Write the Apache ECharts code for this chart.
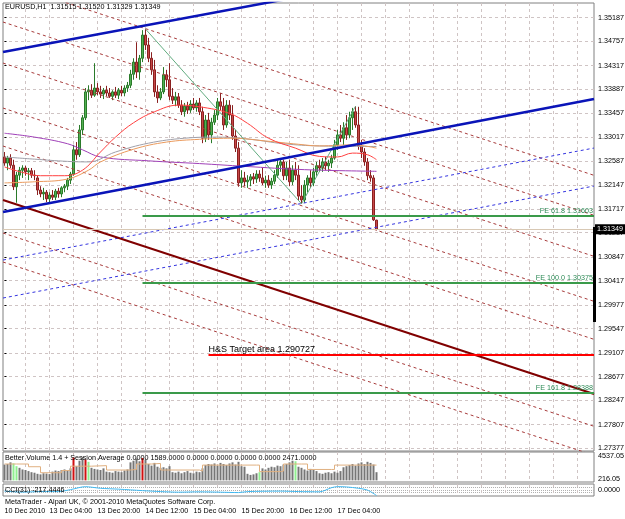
<!DOCTYPE html>
<html><head><meta charset="utf-8">
<script src="https://cdn.jsdelivr.net/npm/echarts@6/dist/echarts.min.js"></script>
<style>html,body{margin:0;padding:0;background:#fff;overflow:hidden}#c{width:625px;height:519px}</style>
</head><body><div id="c"></div>
<script>
// ---------- data ----------
const titleText = 'EURUSD,H1  1.31515 1.31520 1.31329 1.31349';
const volTitle = 'Better Volume 1.4 + Session Average 0.0000 1589.0000 0.0000 0.0000 0.0000 0.0000 2471.0000';
const cciTitle = 'CCI(31) -217.4446';
const footText = 'MetaTrader - Alpari UK, \u00a9 2001-2010 MetaQuotes Software Corp.';

const barCount = 197; // visible bar slots (incl. empty future area)
const dateTicks = {0:'10 Dec 2010',15:'13 Dec 04:00',31:'13 Dec 20:00',47:'14 Dec 12:00',63:'15 Dec 04:00',79:'15 Dec 20:00',95:'16 Dec 12:00',111:'17 Dec 04:00'};
const timeGrid = [7,15,23,31,39,47,55,63,71,79,87,95,103,111,119,127,135,143,151,159,167,175,183,191];
const priceTicks = [1.35187,1.34757,1.34317,1.33887,1.33457,1.33017,1.32587,1.32147,1.31717,1.31287,1.30847,1.30417,1.29977,1.29547,1.29107,1.28677,1.28247,1.27807,1.27377];
const priceRange = [1.27328, 1.35452];
const volTicks = [216.05, 4537.05];
const cciTicks = [-100, 0, 100];

// [open, close, low, high]
const ohlc = [
[1.3266,1.3255,1.3250,1.3275],[1.3255,1.3264,1.3242,1.3268],[1.3264,1.3251,1.3246,1.3271],[1.3251,1.3212,1.3206,1.3261],
[1.3212,1.3233,1.3183,1.3239],[1.3233,1.3242,1.3224,1.3248],[1.3242,1.3246,1.3228,1.3251],[1.3246,1.3239,1.3232,1.3250],
[1.3239,1.3241,1.3224,1.3246],[1.3241,1.3233,1.3228,1.3246],[1.3233,1.3232,1.3224,1.3242],[1.3228,1.3206,1.3197,1.3232],
[1.3206,1.3199,1.3193,1.3213],[1.3199,1.3202,1.3188,1.3210],[1.3202,1.3190,1.3184,1.3206],[1.3190,1.3197,1.3184,1.3202],
[1.3197,1.3193,1.3188,1.3206],[1.3193,1.3204,1.3188,1.3208],[1.3204,1.3199,1.3192,1.3210],[1.3199,1.3210,1.3193,1.3213],
[1.3210,1.3213,1.3202,1.3217],[1.3213,1.3224,1.3206,1.3228],[1.3224,1.3235,1.3217,1.3239],[1.3235,1.3279,1.3232,1.3288],
[1.3279,1.3270,1.3261,1.3293],[1.3270,1.3315,1.3266,1.3324],[1.3315,1.3337,1.3306,1.3342],[1.3337,1.3384,1.3333,1.3391],
[1.3384,1.3387,1.3369,1.3396],[1.3387,1.3378,1.3373,1.3398],[1.3378,1.3391,1.3375,1.3436],[1.3391,1.3384,1.3378,1.3400],
[1.3384,1.3380,1.3373,1.3395],[1.3380,1.3387,1.3371,1.3391],[1.3387,1.3382,1.3376,1.3395],[1.3382,1.3376,1.3373,1.3391],
[1.3376,1.3384,1.3369,1.3387],[1.3384,1.3378,1.3373,1.3393],[1.3378,1.3387,1.3371,1.3391],[1.3387,1.3382,1.3376,1.3395],
[1.3382,1.3391,1.3376,1.3396],[1.3391,1.3396,1.3384,1.3402],[1.3396,1.3416,1.3391,1.3424],[1.3416,1.3438,1.3406,1.3445],
[1.3438,1.3420,1.3409,1.3474],[1.3420,1.3445,1.3406,1.3451],[1.3445,1.3487,1.3438,1.3496],[1.3487,1.3469,1.3460,1.3498],
[1.3469,1.3445,1.3438,1.3482],[1.3445,1.3424,1.3415,1.3456],[1.3424,1.3384,1.3375,1.3442],[1.3384,1.3373,1.3364,1.3396],
[1.3373,1.3384,1.3369,1.3391],[1.3384,1.3415,1.3380,1.3429],[1.3415,1.3406,1.3393,1.3424],[1.3406,1.3376,1.3369,1.3436],
[1.3376,1.3369,1.3362,1.3391],[1.3369,1.3375,1.3358,1.3384],[1.3375,1.3360,1.3355,1.3382],[1.3360,1.3348,1.3342,1.3369],
[1.3348,1.3358,1.3339,1.3364],[1.3358,1.3351,1.3344,1.3366],[1.3351,1.3362,1.3346,1.3369],[1.3362,1.3355,1.3351,1.3373],
[1.3355,1.3364,1.3348,1.3369],[1.3364,1.3348,1.3342,1.3373],[1.3348,1.3300,1.3291,1.3357],[1.3300,1.3333,1.3293,1.3342],
[1.3333,1.3306,1.3297,1.3346],[1.3306,1.3329,1.3291,1.3337],[1.3329,1.3342,1.3324,1.3351],[1.3342,1.3366,1.3333,1.3373],
[1.3366,1.3358,1.3351,1.3382],[1.3358,1.3324,1.3315,1.3373],[1.3324,1.3360,1.3319,1.3369],[1.3360,1.3342,1.3333,1.3369],
[1.3342,1.3304,1.3297,1.3360],[1.3304,1.3282,1.3275,1.3315],[1.3282,1.3219,1.3212,1.3293],[1.3219,1.3228,1.3210,1.3242],
[1.3228,1.3221,1.3213,1.3239],[1.3221,1.3224,1.3210,1.3233],[1.3224,1.3230,1.3213,1.3235],[1.3230,1.3226,1.3217,1.3237],
[1.3226,1.3235,1.3219,1.3242],[1.3235,1.3228,1.3221,1.3242],[1.3228,1.3219,1.3215,1.3246],[1.3219,1.3224,1.3210,1.3232],
[1.3224,1.3215,1.3210,1.3233],[1.3215,1.3222,1.3208,1.3228],[1.3222,1.3233,1.3217,1.3242],[1.3233,1.3251,1.3228,1.3261],
[1.3251,1.3257,1.3239,1.3264],[1.3257,1.3232,1.3224,1.3261],[1.3232,1.3246,1.3224,1.3257],[1.3246,1.3221,1.3213,1.3261],
[1.3221,1.3242,1.3215,1.3251],[1.3242,1.3233,1.3224,1.3257],[1.3233,1.3195,1.3188,1.3251],[1.3195,1.3188,1.3181,1.3215],
[1.3188,1.3215,1.3183,1.3224],[1.3215,1.3228,1.3202,1.3233],[1.3228,1.3219,1.3210,1.3242],[1.3219,1.3239,1.3213,1.3246],
[1.3239,1.3250,1.3232,1.3257],[1.3250,1.3246,1.3239,1.3261],[1.3246,1.3257,1.3239,1.3264],[1.3257,1.3250,1.3242,1.3266],
[1.3250,1.3255,1.3239,1.3261],[1.3255,1.3264,1.3246,1.3270],[1.3264,1.3288,1.3261,1.3297],[1.3288,1.3306,1.3279,1.3315],
[1.3306,1.3300,1.3293,1.3324],[1.3300,1.3319,1.3288,1.3329],[1.3319,1.3306,1.3297,1.3342],[1.3306,1.3337,1.3300,1.3348],
[1.3337,1.3348,1.3315,1.3355],[1.3348,1.3324,1.3319,1.3358],[1.3324,1.3286,1.3279,1.3357],[1.3286,1.3275,1.3264,1.3297],
[1.3275,1.3257,1.3250,1.3282],[1.3257,1.3232,1.3224,1.3264],[1.3232,1.3228,1.3221,1.3242],[1.3228,1.3152,1.3150,1.3233],
[1.31515,1.31349,1.31329,1.31520]
];

// moving averages, sampled [bar, price]
const maRed = [[0,1.3248],[6,1.3238],[12,1.3232],[20,1.3232],[26,1.3242],[32,1.3275],[37,1.3302],[43,1.3328],[50,1.3348],[58,1.3360],[65,1.3357],[75,1.3345],[81,1.3327],[88,1.3300],[97,1.3282],[105,1.3267],[111,1.3266],[116,1.3273],[121,1.3270],[124,1.3261]];
const maOrange = [[0,1.3219],[10,1.3221],[21,1.3226],[28,1.3242],[32,1.3257],[43,1.3280],[54,1.3293],[65,1.3298],[76,1.3300],[87,1.3295],[98,1.3289],[105,1.3286],[116,1.3288],[124,1.3282]];
const maGray = [[0,1.3266],[10,1.3262],[21,1.3258],[28,1.3257],[37,1.3275],[48,1.3291],[60,1.3300],[71,1.3302],[82,1.3298],[93,1.3290],[105,1.3286],[124,1.3285]];
const maPurple = [[0,1.3309],[10,1.3302],[21,1.3290],[26,1.3279],[32,1.3266],[48,1.3259],[65,1.3254],[80,1.3249],[100,1.3243],[124,1.3240]];
const zigzag = [[47,1.3498],[99,1.3181],[117,1.3358]];

// trend lines: [price at left edge, price at right edge]
const edgeX = [-0.5, 196.5];
const blueChannel = [[1.34563,1.36563],[1.31662,1.33711]];
const blueDashed = [[1.30791,1.32822],[1.30102,1.32133]];
const redDashed = [[1.35832,1.32327],[1.35107,1.31602],[1.34363,1.30858],[1.33547,1.30042],[1.32858,1.29353],[1.31281,1.27776],[1.30755,1.27250]];
const medianLine = [1.31879,1.28362];

// horizontal levels
const feLevels = [['FE 61.8',1.31603],['FE 100.0',1.30375],['FE 161.8',1.28388]];
const feStart = 46;
const target = ['H&S Target area',1.290727];
const targetStart = 68;
const bid = 1.31349;

// volume (Better Volume) and class: 0 normal, 1 low (green), 2 climax (red)
const volume = [2900,3000,3300,3100,2600,2300,2000,1900,1700,1500,1400,1200,1100,1300,1250,1150,1600,1800,1700,1900,
2000,1800,2200,4200,2600,3600,4300,3800,3400,2300,2100,2000,1900,2200,1600,1500,1400,1700,1600,1500,
1800,2000,3300,3600,4000,3500,4100,3800,3000,2700,3200,2500,2300,2400,2200,2600,1500,1400,1600,1300,
1500,1700,1400,1300,1600,1500,2200,2800,3000,2900,3100,2700,3200,3000,2800,3100,3300,2900,3400,2600,
2500,1200,1000,1100,1300,1500,2200,2000,2300,2500,2400,2700,2600,2900,3000,3300,3600,3500,2500,2300,
2000,1800,2100,1900,1700,1300,1200,1400,1500,1300,1600,1400,1700,2400,2600,2800,3000,2700,3100,3300,
3000,3400,3200,2900,1500];
const volClass = {3:1,4:1,23:2,27:2,28:1,46:2,85:1,97:1};
const sessionAvg = [[0,3000],[4,3000],[8,2500],[12,1400],[19,1800],[22,2600],[29,2700],[34,1900],[42,2000],[44,3000],[49,3100],[52,1900],[65,1700],[66,2800],[84,2800],[85,1600],[92,1700],[93,3000],[99,3000],[101,2000],[109,2000],[110,2800],[124,2800]];
const cci = [[0,-40],[6,-80],[12,-60],[18,-59],[22,20],[27,141],[29,120],[32,75],[38,40],[42,10],[46,-20],[52,-59],[58,-85],[65,-70],[72,-85],[78,-100],[81,-60],[92,-40],[98,-59],[105,-70],[109,100],[111,141],[114,130],[118,75],[121,0],[124,-217.4446]];

// ---------- chart ----------
const FONT = 'Liberation Sans';
const FS = 7.2;
const gridCol = '#cfc4c4';
const cats = Array.from({length: barCount}, (_, i) => i);
const chart = echarts.init(document.getElementById('c'), null, {renderer: 'canvas'});

const gridBase = {left: 3, right: 31, show: true, borderColor: '#808080', borderWidth: 1, outerBoundsMode: 'none', containLabel: false};
function catAxis(g, labels) {
  return {type: 'category', gridIndex: g, data: cats, boundaryGap: true,
    axisLine: {show: false}, axisTick: {show: false},
    axisLabel: labels ? {show: true, interval: (i) => dateTicks[i] !== undefined, formatter: (v, i) => dateTicks[i] || '',
      align: 'left', margin: 12, fontSize: FS, fontFamily: FONT, color: '#000', hideOverlap: false,
      showMinLabel: true} : {show: false},
    splitLine: {show: false}};
}
function valX(g) {
  return {type: 'value', gridIndex: g, min: edgeX[0], max: edgeX[1], show: true,
    axisLine: {show: false}, axisTick: {show: false, customValues: timeGrid}, axisLabel: {show: false, customValues: timeGrid},
    splitLine: {show: true, lineStyle: {color: gridCol, type: [3, 3], width: 1}}};
}
const lbl = {fontSize: FS, fontFamily: FONT, color: '#000', hideOverlap: false};

const series = [];
series.push({type: 'candlestick', xAxisIndex: 0, yAxisIndex: 0, data: ohlc, barWidth: 2.2, silent: true,
  itemStyle: {color: '#52b052', color0: '#c84848', borderColor: '#2a7a2a', borderColor0: '#8a2020', borderWidth: 1}});

function seg(pts, color, width, type, extra) {
  return Object.assign({type: 'line', xAxisIndex: 1, yAxisIndex: 0, data: pts, symbol: 'none', silent: true,
    lineStyle: {color, width, type: type || 'solid'}, z: 3, animation: false}, extra || {});
}
// bid line
series.push(seg([], '#d8c8b4', 1, 'solid', {markLine: {silent: true, symbol: ['none', 'none'],
  data: [[{coord: [edgeX[0], bid]}, {coord: [edgeX[1], bid]}]],
  lineStyle: {color: '#d8c8b4', width: 1, type: 'solid'},
  label: {show: true, position: 'end', distance: 1, formatter: bid.toFixed(5), backgroundColor: '#000', color: '#fff', padding: [2, 3, 1, 2], fontSize: FS, fontFamily: FONT}}}));

redDashed.forEach(l => series.push(seg([[edgeX[0], l[0]], [edgeX[1], l[1]]], '#a83c3c', 1, [3, 3])));
blueDashed.forEach(l => series.push(seg([[edgeX[0], l[0]], [edgeX[1], l[1]]], '#3434e0', 1, [3, 3])));
series.push(seg([[edgeX[0], medianLine[0]], [edgeX[1], medianLine[1]]], '#800000', 2));
// MAs
series.push(seg(maPurple, '#a040b8', 1, 'solid', {smooth: 0.4}));
series.push(seg(maGray, '#a0a0aa', 1, 'solid', {smooth: 0.4}));
series.push(seg(maOrange, '#eb9a5c', 1, 'solid', {smooth: 0.4}));
series.push(seg(maRed, '#ff4040', 1, 'solid', {smooth: 0.4}));
series.push(seg(zigzag, '#62ac80', 1));
blueChannel.forEach(l => series.push(seg([[edgeX[0], l[0]], [edgeX[1], l[1]]], '#0a14b8', 2.5)));
// FE levels
series.push(seg([], '#2f8f3f', 2, 'solid', {markLine: {silent: true, symbol: ['none', 'none'],
  data: feLevels.map(f => [{coord: [feStart, f[1]]}, {coord: [edgeX[1], f[1]]}]),
  lineStyle: {color: '#3a9a4a', width: 2, type: 'solid'},
  label: {show: true, position: 'insideEndTop', distance: [1, 1], color: '#2e8b57', fontSize: FS, fontFamily: FONT,
    formatter: (p) => feLevels[p.dataIndex][0] + ' ' + feLevels[p.dataIndex][1].toFixed(5)}}}));
// H&S target
series.push(seg([], '#ff0000', 2, 'solid', {markLine: {silent: true, symbol: ['none', 'none'],
  data: [[{coord: [targetStart, target[1]]}, {coord: [edgeX[1], target[1]]}]],
  lineStyle: {color: '#ff0000', width: 2, type: 'solid'},
  label: {show: true, position: 'insideStartTop', distance: [0, 1], color: '#000', fontSize: 9, fontFamily: FONT,
    formatter: target[0] + ' ' + target[1].toFixed(6)}}}));

// volume
const volColors = ['#767676', '#90ee90', '#d01010'];
series.push({type: 'bar', xAxisIndex: 2, yAxisIndex: 1, barWidth: 2, silent: true,
  data: volume.map((v, i) => ({value: v, itemStyle: {color: volColors[volClass[i] || 0]}}))});
series.push({type: 'line', xAxisIndex: 3, yAxisIndex: 1, data: sessionAvg, step: 'end', symbol: 'none', silent: true,
  lineStyle: {color: '#e0b080', width: 1}});
// CCI
series.push({type: 'line', xAxisIndex: 5, yAxisIndex: 2, data: cci, symbol: 'none', silent: true, smooth: 0.3,
  lineStyle: {color: '#40b8f0', width: 1}});

const tStyle = {fontSize: FS, fontWeight: 'normal', color: '#000', fontFamily: FONT};
const option = {
  animation: false,
  backgroundColor: '#ffffff',
  textStyle: {fontFamily: FONT},
  title: [
    {text: titleText, left: 5, top: 4, padding: 0, textStyle: tStyle},
    {text: volTitle, left: 5, top: 455, padding: 0, textStyle: tStyle},
    {text: cciTitle, left: 5, top: 487, padding: 0, textStyle: tStyle},
    {text: footText, left: 5, top: 499, padding: 0, textStyle: tStyle}
  ],
  grid: [
    Object.assign({top: 3, height: 448}, gridBase),
    Object.assign({top: 452, height: 30}, gridBase),
    Object.assign({top: 484, height: 12}, gridBase)
  ],
  xAxis: [catAxis(0, false), valX(0), catAxis(1, false), valX(1), catAxis(2, true), valX(2)],
  yAxis: [
    {type: 'value', gridIndex: 0, position: 'right', min: priceRange[0], max: priceRange[1],
      axisLine: {show: false}, axisTick: {show: true, customValues: priceTicks, length: 2, lineStyle: {color: '#000'}},
      axisLabel: Object.assign({customValues: priceTicks, margin: 4, formatter: (v) => v.toFixed(5)}, lbl),
      splitLine: {show: true, lineStyle: {color: gridCol, type: [3, 3]}}},
    {type: 'value', gridIndex: 1, position: 'right', min: -300, max: 5200,
      axisLine: {show: false}, axisTick: {show: false, customValues: volTicks},
      axisLabel: Object.assign({customValues: volTicks, margin: 4, formatter: (v) => v.toFixed(2)}, lbl),
      splitLine: {show: false}},
    {type: 'value', gridIndex: 2, position: 'right', min: -240, max: 250,
      axisLine: {show: false}, axisTick: {show: false, customValues: cciTicks},
      axisLabel: Object.assign({customValues: cciTicks, margin: 4, formatter: (v) => v.toFixed(4)}, lbl),
      splitLine: {show: true, lineStyle: {color: '#b0b0b0', type: [1, 1]}}}
  ],
  series: series,
  graphic: [{type: 'rect', shape: {x: 593, y: 227, width: 3, height: 95}, style: {fill: '#000'}, silent: true, z: 100}]
};
chart.setOption(option);
</script>
</body></html>
